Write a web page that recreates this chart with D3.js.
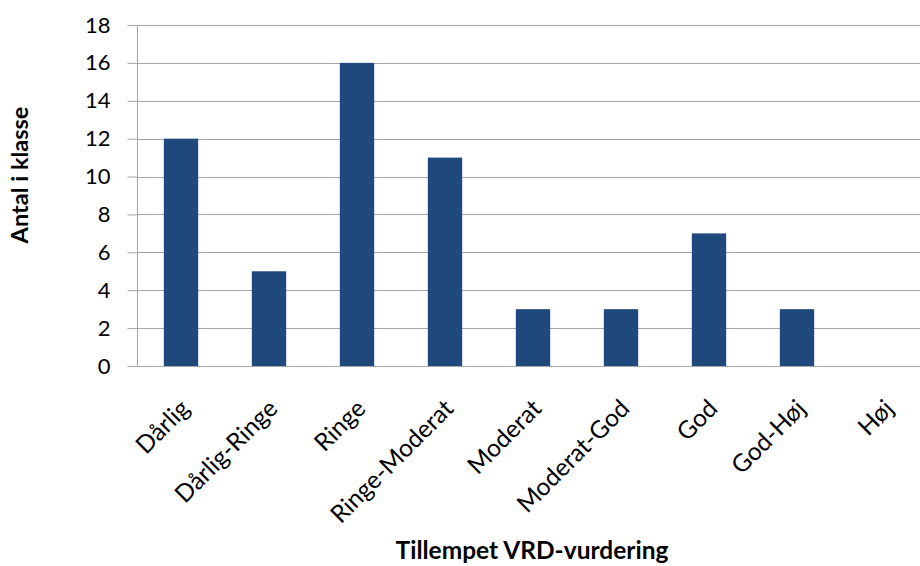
<!DOCTYPE html>
<html>
<head>
<meta charset="utf-8">
<script src="https://cdn.jsdelivr.net/npm/d3@7"></script>
<style>
    body { margin: 0; background: #fff; }
    text { font-family: Lato, "Open Sans", sans-serif; fill: #000; }
</style>
</head>
<body>
<script>
const width = 920;
const height = 566;

// chart data
const categories = ["Dårlig", "Dårlig-Ringe", "Ringe", "Ringe-Moderat", "Moderat",
    "Moderat-God", "God", "God-Høj", "Høj"];
const counts = [12, 5, 16, 11, 3, 3, 7, 3, 0];
const yTicks = [0, 2, 4, 6, 8, 10, 12, 14, 16, 18];

let margin = {top: 25, right: -9, bottom: 200, left: 137};

let svg = d3.select("body")
    .append("svg")
    .attr("width", width)
    .attr("height", height);

let xScale = d3.scaleBand()
    .domain(categories)
    .range([margin.left, width - margin.right])
    .paddingInner(0.61)
    .paddingOuter(0.305);

let yScale = d3.scaleLinear()
    .domain([0, 18])
    .range([366, margin.top]);

// gridlines
svg.append("g")
    .selectAll("line")
    .data(yTicks.filter(d => d > 0))
    .join("line")
    .attr("x1", margin.left)
    .attr("x2", width)
    .attr("y1", d => Math.round(yScale(d)) + 0.5)
    .attr("y2", d => Math.round(yScale(d)) + 0.5)
    .attr("stroke", "#a6a6a6")
    .attr("stroke-width", 1);

// bars
svg.append("g")
    .selectAll("rect")
    .data(counts)
    .join("rect")
    .attr("x", (d, i) => xScale(categories[i]))
    .attr("y", d => yScale(d))
    .attr("width", xScale.bandwidth())
    .attr("height", d => yScale(0) - yScale(d))
    .attr("fill", "#1f497d");

// left axis
let leftAxis = d3.axisLeft(yScale)
    .tickValues(yTicks)
    .tickSize(10)
    .tickPadding(17);
let leftContainer = svg.append("g")
    .attr("transform", `translate(${margin.left + 0.5}, 0)`)
    .call(leftAxis);
leftContainer.selectAll("line").attr("stroke", "#a6a6a6");
leftContainer.select(".domain").attr("stroke", "#a6a6a6").attr("d", `M0,${yScale(18)}V${yScale(0)}`);
leftContainer.selectAll("text")
    .style("font-family", "Lato, 'Open Sans', sans-serif")
    .style("font-size", "22px")
    .attr("fill", "#000");

// bottom axis line
svg.append("line")
    .attr("x1", margin.left)
    .attr("x2", width)
    .attr("y1", Math.round(yScale(0)) + 0.5)
    .attr("y2", Math.round(yScale(0)) + 0.5)
    .attr("stroke", "#a6a6a6");

// category labels, rotated
svg.append("g")
    .selectAll("text")
    .data(categories)
    .join("text")
    .attr("transform", d => `translate(${xScale(d) + xScale.bandwidth() / 2 + 4}, 404) rotate(-45)`)
    .attr("text-anchor", "end")
    .attr("dy", "0.35em")
    .style("font-size", "24.5px")
    .text(d => d);

// axis titles
svg.append("text")
    .attr("transform", `translate(28, 175) rotate(-90)`)
    .attr("text-anchor", "middle")
    .style("font-size", "23.5px")
    .style("font-weight", "bold")
    .text("Antal i klasse");

svg.append("text")
    .attr("x", 532)
    .attr("y", 559)
    .attr("text-anchor", "middle")
    .style("font-size", "24.5px")
    .style("font-weight", "bold")
    .text("Tillempet VRD-vurdering");
</script>
</body>
</html>
